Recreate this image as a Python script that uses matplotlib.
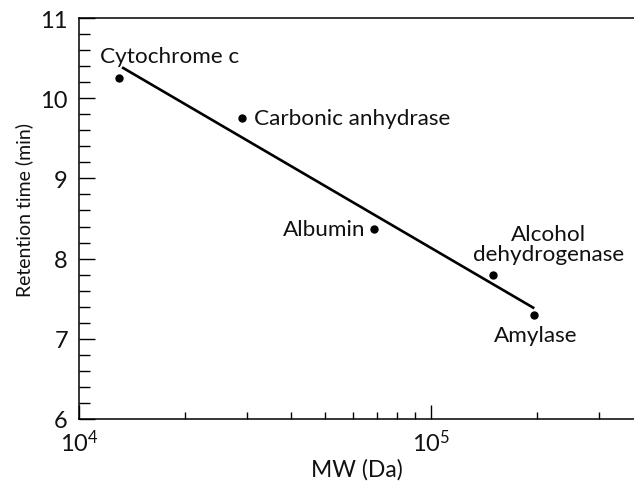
import numpy as np
import matplotlib.pyplot as plt
from matplotlib.ticker import LogLocator, FixedLocator, NullFormatter

plt.rcParams['font.family'] = ['Lato', 'DejaVu Sans']
plt.rcParams['mathtext.fontset'] = 'custom'
plt.rcParams['mathtext.rm'] = 'Lato'
plt.rcParams['mathtext.it'] = 'Lato'

# data
proteins = ['Cytochrome c', 'Carbonic anhydrase', 'Albumin',
            'Alcohol\ndehydrogenase', 'Amylase']
mw = [13000, 29100, 68900, 150000, 196000]
rt = [10.25, 9.75, 8.37, 7.80, 7.30]

# fitted line end points
fit_mw = [13250, 196000]
fit_rt = [10.385, 7.38]

# label offsets (points) and alignment
offsets = [(-13.7, 15.8), (8, 0), (-6.5, 0), (40, 22), (1, -14.4)]
aligns = ['left', 'left', 'right', 'center', 'center']

fig = plt.figure(figsize=(6.34, 4.85), dpi=100)
ax = fig.add_axes([79 / 634, 1 - 420 / 485, 1 - 79 / 634, (420 - 19) / 485])

ax.plot(fit_mw, fit_rt, color='black', lw=1.9, solid_capstyle='butt')
ax.plot(mw, rt, 'o', color='black', ms=5)

for name, x, y, off, ha in zip(proteins, mw, rt, offsets, aligns):
    ax.annotate(name, (x, y), xytext=off, textcoords='offset points',
                ha=ha, va='center', fontsize=16.2, multialignment='center',
                linespacing=1.05, color='#111111')

ax.set_xscale('log')
ax.set_xlim(1e4, 3.76e5)
ax.set_ylim(6, 11)
ax.set_yticks([6, 7, 8, 9, 10, 11])
ax.yaxis.set_minor_locator(FixedLocator(np.arange(6, 11.01, 0.2)))
ax.xaxis.set_major_locator(LogLocator(base=10, numticks=10))
ax.xaxis.set_minor_locator(LogLocator(base=10, subs=np.arange(2, 10), numticks=10))
ax.xaxis.set_minor_formatter(NullFormatter())

ax.spines['right'].set_visible(False)
for s in ['left', 'bottom', 'top']:
    ax.spines[s].set_linewidth(1.1)

ax.tick_params(axis='y', which='major', direction='in', length=11.5, width=1,
               labelsize=17, pad=8, labelcolor='#111111')
ax.tick_params(axis='y', which='minor', direction='in', length=8, width=1)
ax.tick_params(axis='x', which='major', direction='in', length=10, width=1,
               labelsize=17, pad=7, labelcolor='#111111')
ax.tick_params(axis='x', which='minor', direction='in', length=5, width=1)

ax.set_xlabel('MW (Da)', fontsize=16.5, labelpad=2, color='#111111')
ax.set_ylabel('Retention time (min)', fontsize=14, color='#111111')
ax.yaxis.set_label_coords(-0.083, 0.524)

fig.savefig('out.png', dpi=100)
